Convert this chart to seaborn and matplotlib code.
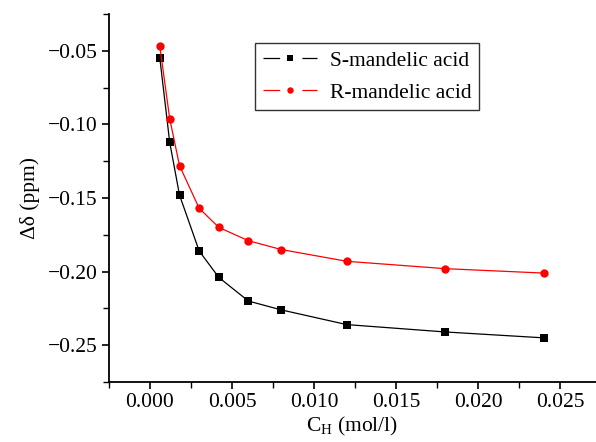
import numpy as np
import pandas as pd
import matplotlib
matplotlib.use("Agg")
import matplotlib.pyplot as plt
import seaborn as sns

# Data
conc = [0.0006, 0.0012, 0.0018, 0.0030, 0.0042, 0.0060, 0.0080, 0.0120, 0.0180, 0.0240]
s_mandelic = [-0.055, -0.112, -0.148, -0.186, -0.204, -0.220, -0.226, -0.236, -0.241, -0.245]
r_mandelic = [-0.047, -0.096, -0.128, -0.157, -0.170, -0.179, -0.185, -0.193, -0.198, -0.201]
series_names = ["S-mandelic acid", "R-mandelic acid"]
x_ticks = [0.000, 0.005, 0.010, 0.015, 0.020, 0.025]
y_ticks = [-0.25, -0.20, -0.15, -0.10, -0.05]

df = pd.DataFrame({
    "conc": conc + conc,
    "delta": s_mandelic + r_mandelic,
    "series": [series_names[0]] * len(conc) + [series_names[1]] * len(conc),
})

sns.set_style("ticks")
plt.rcParams["font.family"] = ["Liberation Serif", "DejaVu Serif"]
plt.rcParams["mathtext.fontset"] = "custom"
plt.rcParams["mathtext.rm"] = "Liberation Serif"
plt.rcParams["mathtext.it"] = "Liberation Serif:italic"
plt.rcParams["text.color"] = "black"
plt.rcParams["axes.labelcolor"] = "black"
plt.rcParams["xtick.color"] = "black"
plt.rcParams["ytick.color"] = "black"
plt.rcParams["lines.scale_dashes"] = False

FS = 15.5

fig = plt.figure(figsize=(5.96, 4.42), dpi=100)
ax = fig.add_axes([109 / 596, 1 - 382 / 442, (596 - 109) / 596, (382 - 14) / 442])

sns.lineplot(data=df, x="conc", y="delta", hue="series", style="series",
             palette={series_names[0]: "black", series_names[1]: "#ff0000"},
             markers={series_names[0]: "s", series_names[1]: "o"},
             dashes=False, markersize=6, markeredgewidth=0, linewidth=0.9,
             ax=ax, legend=True)

ax.set_xlim(-0.0025, 0.0272)
ax.set_ylim(-0.275, -0.025)
ax.set_xticks(x_ticks)
ax.set_xticklabels([f"{v:.3f}" for v in x_ticks])
ax.set_yticks(y_ticks)
ax.set_yticklabels([f"\u2212{abs(v):.2f}" for v in y_ticks])
ax.set_xticks(np.arange(-0.0025, 0.0272, 0.0025), minor=True)
ax.set_yticks(np.arange(-0.275, -0.024, 0.025), minor=True)

ax.tick_params(axis="both", which="major", direction="out", length=5, width=1.2,
               labelsize=FS, colors="black", pad=3)
ax.tick_params(axis="both", which="minor", direction="out", length=4, width=1.0)

for side in ["top", "right"]:
    ax.spines[side].set_visible(False)
for side in ["left", "bottom"]:
    ax.spines[side].set_linewidth(1.3)
    ax.spines[side].set_color("black")

ax.set_xlabel(r"C$_\mathrm{H}$ (mol/l)", fontsize=FS, labelpad=2)
ax.set_ylabel("\u0394\u03b4 (ppm)", fontsize=FS, labelpad=6)

leg = ax.legend(loc="upper left", frameon=True, fancybox=False,
                edgecolor="black", fontsize=FS, handlelength=2.52, handletextpad=0.6,
                borderpad=0.35, labelspacing=0.55, borderaxespad=0)
leg.get_frame().set_linewidth(1.0)
leg.set_title(None)
for h in leg.legend_handles:
    h.set_markersize(4.6)
for ln in leg.get_lines():
    ln.set_linestyle((0, (12, 16, 30, 1)))
leg.set_bbox_to_anchor(((255 - 109) / (596 - 109), 1 - (43 - 14) / (382 - 14)), transform=ax.transAxes)

fig.savefig("out.png", dpi=100)
